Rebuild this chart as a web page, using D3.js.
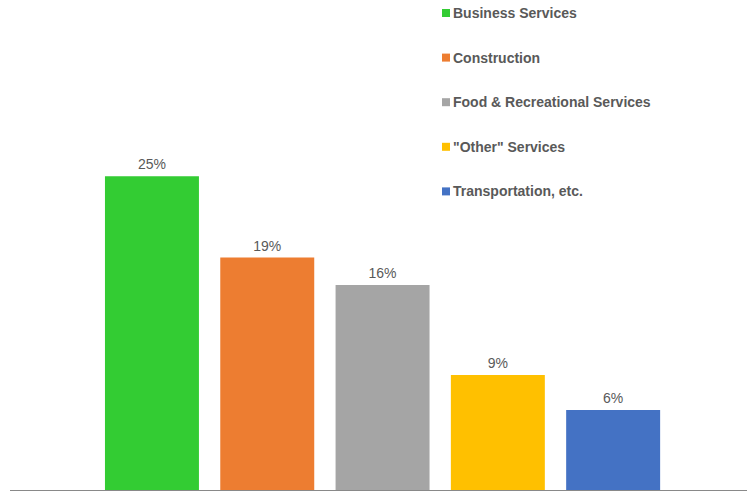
<!DOCTYPE html>
<html><head><meta charset="utf-8">
<script src="https://cdn.jsdelivr.net/npm/d3@7"></script>
<style>body{margin:0;background:#fff}svg{display:block}</style>
</head><body>
<svg id="c" width="747" height="491"></svg>
<script>
const categories = ["Business Services","Construction","Food & Recreational Services","\"Other\" Services","Transportation, etc."];
const values = [25.1, 18.6, 16.4, 9.2, 6.4];
const labels = ["25%","19%","16%","9%","6%"];
const colors = ["#33cc33","#ed7d31","#a5a5a5","#ffc000","#4472c4"];

const svg = d3.select("#c");
const x = d3.scaleBand().domain(categories).range([94.3, 670.8]).paddingInner(0.185).paddingOuter(0.0925);
const y = d3.scaleLinear().domain([0, 30]).range([490, 115]);

svg.selectAll("rect.bar").data(categories).join("rect")
  .attr("class","bar")
  .attr("x", d => x(d)).attr("width", x.bandwidth())
  .attr("y", (d,i) => y(values[i])).attr("height", (d,i) => y(0) - y(values[i]))
  .attr("fill", (d,i) => colors[i]);

svg.append("line").attr("x1", 10).attr("x2", 747).attr("y1", 490.5).attr("y2", 490.5)
  .attr("stroke", "#898989").attr("stroke-width", 1);

svg.selectAll("text.lbl").data(categories).join("text")
  .attr("class","lbl")
  .attr("x", d => x(d) + x.bandwidth()/2)
  .attr("y", (d,i) => y(values[i]) - 7)
  .attr("text-anchor","middle")
  .attr("font-family","Liberation Sans, Arial, sans-serif")
  .attr("font-size", 14).attr("fill","#595959")
  .text((d,i) => labels[i]);

const lg = svg.append("g");
categories.forEach((c,i) => {
  const cy = 13 + i*44.6;
  lg.append("rect").attr("x", 442).attr("y", cy-4).attr("width", 8).attr("height", 8).attr("fill", colors[i]);
  lg.append("text").attr("x", 453).attr("y", cy + 5)
    .attr("font-family","Liberation Sans, Arial, sans-serif")
    .attr("font-size", 14).attr("font-weight","bold").attr("fill","#595959").text(c);
});
</script>
</body></html>
